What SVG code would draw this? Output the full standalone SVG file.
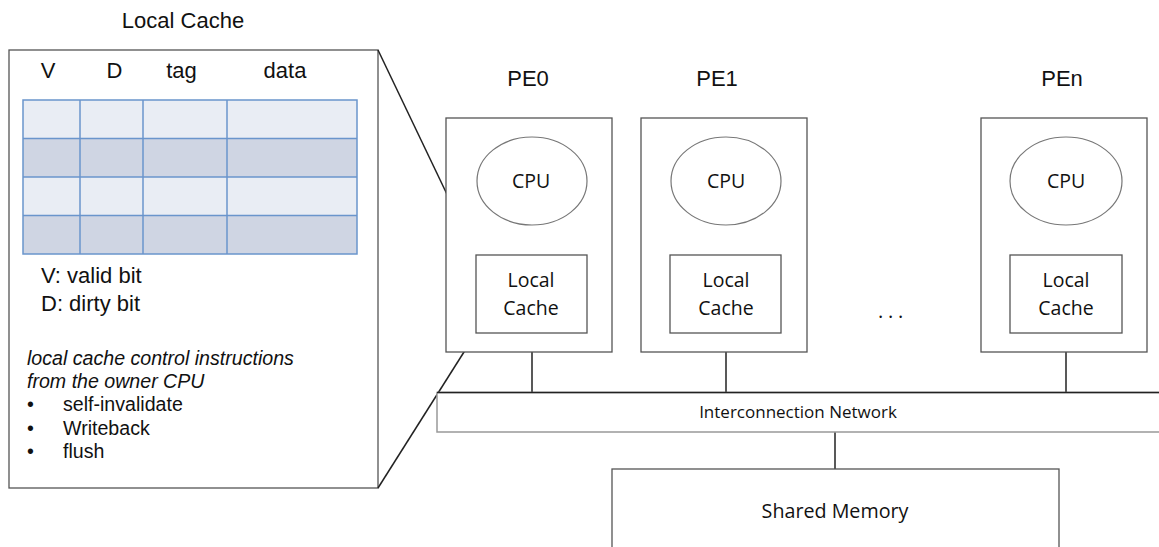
<svg xmlns="http://www.w3.org/2000/svg" width="1159" height="547" viewBox="0 0 1159 547">
<style>
.box{fill:#fff;stroke:#555;stroke-width:1.3}
.net{fill:#fff;stroke:#999;stroke-width:1.5}
.cpu{fill:#fff;stroke:#777;stroke-width:1.2}
.ln{stroke:#222;stroke-width:1.5;fill:none}
.ar{font-family:"Liberation Sans",Arial,sans-serif;fill:#111}
.ca{font-family:"Open Sans","Noto Sans",sans-serif;fill:#111}
.c1{fill:#E9EDF4}
.c2{fill:#CFD5E3}
.grid{stroke:#6A95CC;stroke-width:1.5;fill:none}
.t22{font-size:22px}
.t20{font-size:19.6px}
.n{font-size:19.5px;text-anchor:middle}
</style>
<g id="detail">
<text class="ar t22" x="183" y="28" text-anchor="middle">Local Cache</text>
<rect class="box" x="9" y="50" width="369" height="438"/>
<text class="ar t22" x="48" y="78" text-anchor="middle">V</text>
<text class="ar t22" x="114.5" y="78" text-anchor="middle">D</text>
<text class="ar t22" x="181.5" y="78" text-anchor="middle">tag</text>
<text class="ar t22" x="285" y="78" text-anchor="middle">data</text>
<rect class="c1" x="23" y="100" width="334" height="38.5"/>
<rect class="c2" x="23" y="138.5" width="334" height="38.5"/>
<rect class="c1" x="23" y="177" width="334" height="38.5"/>
<rect class="c2" x="23" y="215.5" width="334" height="38.5"/>
<g class="grid">
<rect x="23" y="100" width="334" height="154"/>
<line x1="23" y1="138.5" x2="357" y2="138.5"/>
<line x1="23" y1="177" x2="357" y2="177"/>
<line x1="23" y1="215.5" x2="357" y2="215.5"/>
<line x1="80" y1="100" x2="80" y2="254"/>
<line x1="143" y1="100" x2="143" y2="254"/>
<line x1="227" y1="100" x2="227" y2="254"/>
</g>
<text class="ar t22" x="41" y="283">V: valid bit</text>
<text class="ar t22" x="41" y="311">D: dirty bit</text>
<text class="ar t20" x="27" y="365" font-style="italic">local cache control instructions</text>
<text class="ar t20" x="27" y="388" font-style="italic">from the owner CPU</text>
<text class="ar t20" x="27" y="411">•</text>
<text class="ar t20" x="63" y="411">self-invalidate</text>
<text class="ar t20" x="27" y="435">•</text>
<text class="ar t20" x="63" y="435">Writeback</text>
<text class="ar t20" x="27" y="458">•</text>
<text class="ar t20" x="63" y="458">flush</text>
</g>
<g id="connectors">
<line class="ln" x1="378" y1="50" x2="476" y2="255"/>
<line class="ln" x1="378" y1="488" x2="476" y2="333"/>
<line class="ln" x1="532" y1="225" x2="532" y2="255"/>
<line class="ln" x1="532" y1="333" x2="532" y2="392"/>
<line class="ln" x1="726" y1="225" x2="726" y2="255"/>
<line class="ln" x1="726" y1="333" x2="726" y2="392"/>
<line class="ln" x1="1066" y1="225" x2="1066" y2="255"/>
<line class="ln" x1="1066" y1="333" x2="1066" y2="392"/>
<line class="ln" x1="835" y1="432" x2="835" y2="469"/>
</g>
<g id="pe0">
<text class="ar t22" x="528" y="86" text-anchor="middle">PE0</text>
<rect class="box" x="446" y="118" width="166" height="234"/>
<ellipse class="cpu" cx="532" cy="181" rx="55" ry="44"/>
<text class="ca n" x="531" y="188">CPU</text>
<rect class="box" x="476" y="255" width="111" height="78"/>
<text class="ca n" x="531" y="287">Local</text>
<text class="ca n" x="531" y="315">Cache</text>
</g>
<g id="pe1">
<text class="ar t22" x="717" y="86" text-anchor="middle">PE1</text>
<rect class="box" x="641" y="118" width="166" height="234"/>
<ellipse class="cpu" cx="726" cy="181" rx="55" ry="44"/>
<text class="ca n" x="726" y="188">CPU</text>
<rect class="box" x="670" y="255" width="111" height="78"/>
<text class="ca n" x="726" y="287">Local</text>
<text class="ca n" x="726" y="315">Cache</text>
</g>
<g id="dots">
<text class="ca" x="878" y="318" font-size="20" letter-spacing="4.7">...</text>
</g>
<g id="pen">
<text class="ar t22" x="1062" y="86" text-anchor="middle">PEn</text>
<rect class="box" x="981" y="118" width="166" height="234"/>
<ellipse class="cpu" cx="1066" cy="181" rx="56" ry="44"/>
<text class="ca n" x="1066" y="188">CPU</text>
<rect class="box" x="1010" y="255" width="112" height="78"/>
<text class="ca n" x="1066" y="287">Local</text>
<text class="ca n" x="1066" y="315">Cache</text>
</g>
<g id="network">
<rect class="net" x="437" y="392.5" width="730" height="39.5"/>
<line class="ln" x1="437" y1="392.5" x2="1159" y2="392.5" stroke-width="1.3"/>
<text class="ca" x="798" y="418" font-size="17" text-anchor="middle">Interconnection Network</text>
</g>
<g id="memory">
<rect class="box" x="612" y="469" width="447" height="90"/>
<text class="ca" x="835" y="518" font-size="19.7" text-anchor="middle">Shared Memory</text>
</g>
</svg>
